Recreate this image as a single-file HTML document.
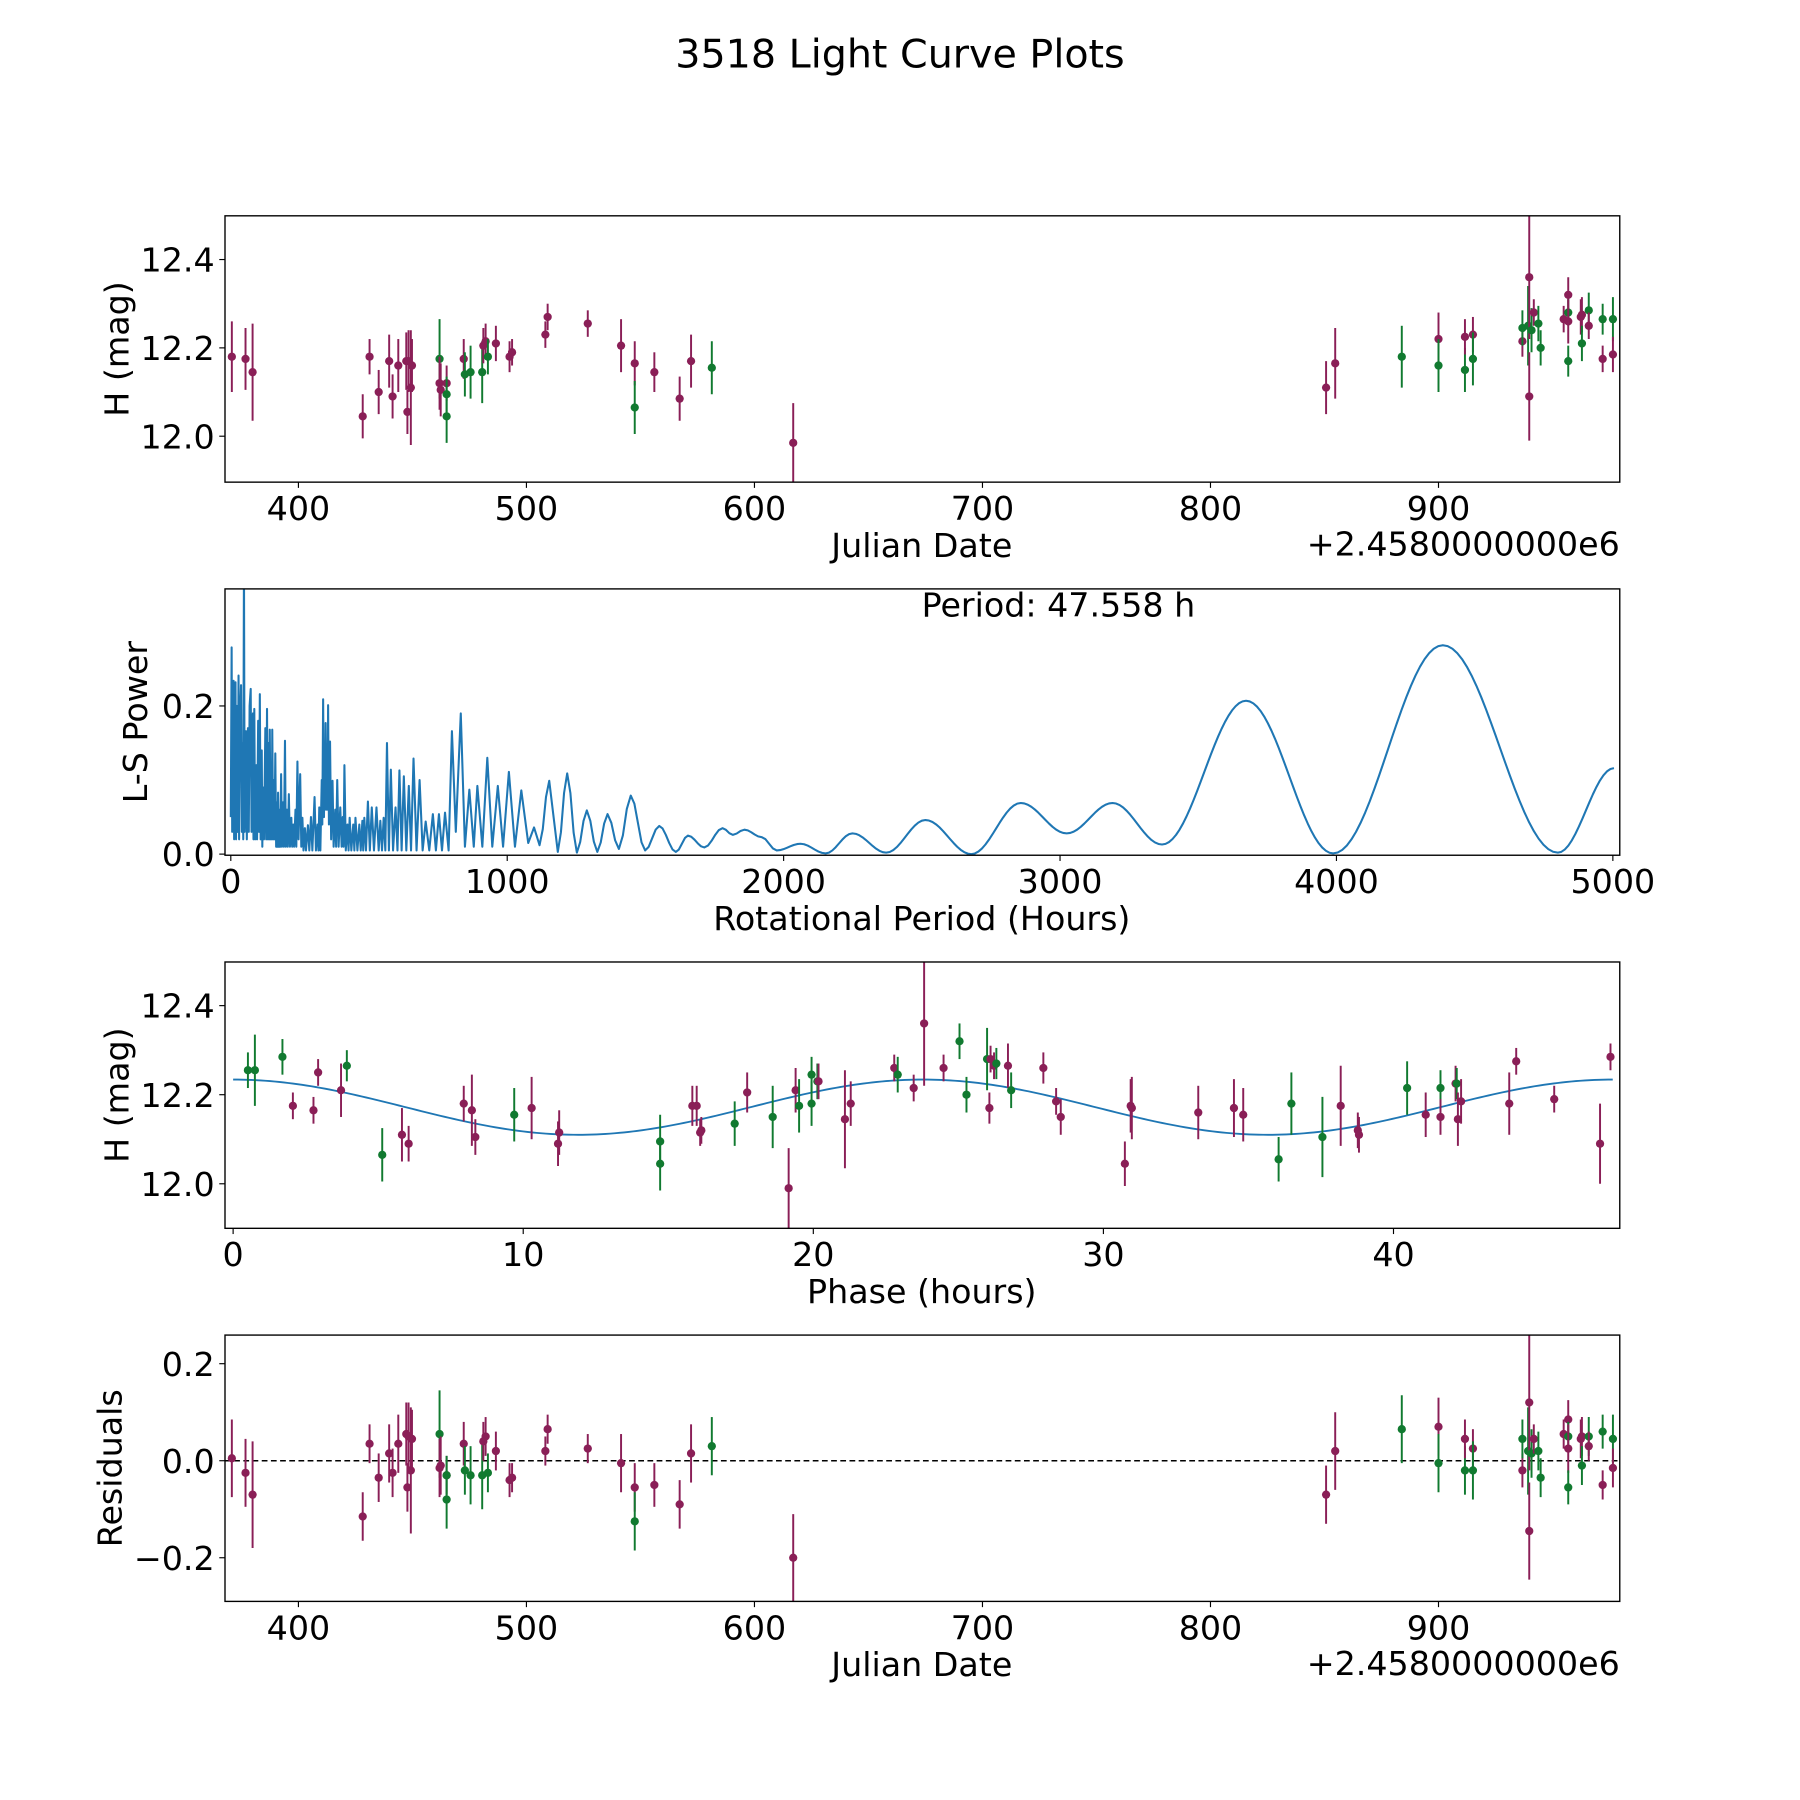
<!DOCTYPE html>
<html><head><meta charset="utf-8"><style>
html,body{margin:0;padding:0;background:#fff;}
svg{display:block;font-family:"DejaVu Sans","Liberation Sans",sans-serif;}
</style></head><body>
<svg id="fig" width="1800" height="1800" viewBox="0 0 1568 1568" xmlns="http://www.w3.org/2000/svg">
<text x="784" y="59" font-size="34.5" text-anchor="middle">3518 Light Curve Plots</text>
</svg>
<script>
// ---- Panel 1 / 4 data (Julian date offset from 2458000) ----
const obsDate = [370.8,376.8,379.9,428.2,431.2,435.2,439.8,441.3,443.8,447.3,447.8,448.3,449.3,449.8,461.9,461.9,462.4,465.0,465.0,465.0,472.5,473.0,475.5,480.6,481.1,482.1,483.1,486.6,492.6,493.7,508.3,509.3,526.9,541.5,547.5,547.5,556.1,567.2,572.2,581.3,617.0,850.7,854.7,883.9,900.0,900.0,911.6,911.6,915.1,915.1,936.8,936.8,939.3,939.8,939.8,940.8,941.8,943.8,944.8,954.9,956.9,956.9,956.9,956.9,962.4,962.9,962.9,965.9,965.9,972.0,972.0,976.5,976.5];
const obsMag = [12.18,12.175,12.145,12.045,12.18,12.10,12.17,12.09,12.16,12.17,12.055,12.17,12.11,12.16,12.175,12.12,12.105,12.12,12.095,12.045,12.175,12.14,12.145,12.145,12.205,12.215,12.18,12.21,12.18,12.19,12.23,12.27,12.255,12.205,12.165,12.065,12.145,12.085,12.17,12.155,11.985,12.11,12.165,12.18,12.22,12.16,12.15,12.225,12.23,12.175,12.215,12.245,12.25,12.36,12.09,12.24,12.28,12.255,12.2,12.265,12.32,12.28,12.26,12.17,12.27,12.275,12.21,12.285,12.25,12.265,12.175,12.265,12.185];
const obsErr = [0.08,0.07,0.11,0.05,0.04,0.05,0.06,0.05,0.06,0.065,0.05,0.07,0.13,0.06,0.09,0.06,0.06,0.04,0.04,0.06,0.045,0.05,0.06,0.07,0.04,0.04,0.04,0.04,0.035,0.03,0.03,0.03,0.03,0.06,0.05,0.06,0.045,0.05,0.06,0.06,0.09,0.06,0.08,0.07,0.06,0.06,0.05,0.04,0.04,0.06,0.035,0.04,0.09,0.14,0.1,0.05,0.03,0.04,0.04,0.03,0.04,0.03,0.05,0.035,0.04,0.04,0.04,0.04,0.03,0.035,0.03,0.05,0.04];
const obsBand = "mmmmmmmmmmmmmmgmmmggmgggmmgmmmmmmmmgmmmgmmmgmggmmgmggmmgmggmmgmgmmggmgmgm";
const obsResid = [0.005,-0.025,-0.07,-0.115,0.035,-0.035,0.015,-0.025,0.035,0.055,-0.055,0.05,-0.02,0.045,0.055,-0.015,-0.01,-0.03,-0.03,-0.08,0.035,-0.02,-0.03,-0.03,0.04,0.05,-0.025,0.02,-0.04,-0.035,0.02,0.065,0.025,-0.005,-0.055,-0.125,-0.05,-0.09,0.015,0.03,-0.2,-0.07,0.02,0.065,0.07,-0.005,-0.02,0.045,0.025,-0.02,-0.02,0.045,0.02,0.12,-0.145,0.015,0.045,0.02,-0.035,0.055,0.085,0.05,0.025,-0.055,0.045,0.05,-0.01,0.05,0.03,0.06,-0.05,0.045,-0.015];
// ---- Panel 3 data (phase folded) ----
const phHours = [0.51,0.75,1.70,2.06,2.77,2.93,3.72,3.92,5.14,5.82,6.05,7.95,8.23,8.35,9.69,10.29,11.20,11.24,14.72,14.72,15.83,15.98,16.10,16.14,17.29,17.72,18.60,19.15,19.39,19.51,19.94,19.94,20.14,20.18,21.09,21.29,22.79,22.91,23.46,23.82,24.49,25.04,25.28,25.99,26.07,26.11,26.23,26.31,26.71,26.82,27.93,28.37,28.53,30.74,30.94,30.98,33.27,34.50,34.82,36.04,36.48,37.55,38.18,38.77,38.81,40.47,41.11,41.62,41.62,42.14,42.18,42.22,42.33,43.99,44.23,45.54,47.12,47.48];
const phMag = [12.255,12.255,12.285,12.175,12.165,12.25,12.21,12.265,12.065,12.11,12.09,12.18,12.165,12.105,12.155,12.17,12.09,12.115,12.095,12.045,12.175,12.175,12.115,12.12,12.135,12.205,12.15,11.99,12.21,12.175,12.245,12.18,12.23,12.23,12.145,12.18,12.26,12.245,12.215,12.36,12.26,12.32,12.2,12.28,12.17,12.28,12.265,12.27,12.265,12.21,12.26,12.185,12.15,12.045,12.175,12.17,12.16,12.17,12.155,12.055,12.18,12.105,12.175,12.12,12.11,12.215,12.155,12.215,12.15,12.225,12.225,12.145,12.185,12.18,12.275,12.19,12.09,12.285];
const phErr = [0.04,0.08,0.04,0.03,0.03,0.03,0.06,0.035,0.06,0.06,0.04,0.04,0.08,0.04,0.06,0.07,0.05,0.05,0.06,0.06,0.045,0.045,0.03,0.03,0.05,0.045,0.07,0.09,0.05,0.06,0.04,0.05,0.04,0.04,0.11,0.05,0.03,0.04,0.03,0.14,0.03,0.04,0.04,0.07,0.035,0.03,0.03,0.035,0.05,0.04,0.035,0.03,0.04,0.05,0.06,0.07,0.06,0.065,0.06,0.05,0.07,0.09,0.09,0.04,0.04,0.06,0.05,0.04,0.04,0.04,0.035,0.06,0.05,0.07,0.03,0.03,0.09,0.03];
const phBand = "gggmmmmggmmmmmgmmmggmmmmgmgmmggggmmmmgmmmgggmmmgmgmmmmmmmmmgggmmmgmgmmgmmmmmm";
// sinusoid model fit parameters
const modelMean = [12.172];
const modelAmp = [0.062];
const modelPeriodH = [23.78];
// ---- Panel 2 periodogram extrema (period h, power) ----
const lsPeriod = [0,3,5,8,10,12,14,17,19,22,25,28,30,33,37,40,43,45,47.6,50,55,58,62,65,68,72,75,80,82,85,88,92,95,99,102,105,108,112,114,116,120,125,128,131,134,137,139,141,144,147,148,150,153,156,158,161,164,167,169,171,174,177,179,182,185,189,192,196,199,203,206,210,214,219,222,226,229,234,237,241,245,251,255,259,263,268,272,279,284,290,295,303,308,314,317,320,324,329,331,334,337,340,341,343,346,349,350,352,355,359,363,368,372,378,381,385,390,396,401,405,408,411,416,422,426,430,436,443,447,451,458,465,470,476,479,483,489,496,503,510,518,527,535,541,547,553,559,565,572,579,587,596,603,610,618,626,635,644,652,661,672,683,694,705,718,731,742,753,764,775,788,800,814,832,847,863,879,892,910,928,946,966,985,1006,1028,1051,1076,1097,1117,1152,1183,1217,1252,1288,1326,1363,1404,1447,1499,1550,1610,1654,1713,1779,1816,1858,1920,1975,2061,2152,2249,2371,2513,2679,2858,3024,3190,3369,3673,3988,4385,4801,5004];
const lsPower = [0.05,0.279,0.03,0.20,0.234,0.02,0.21,0.232,0.02,0.20,0.03,0.241,0.02,0.18,0.228,0.03,0.15,0.02,0.40,0.03,0.166,0.02,0.17,0.03,0.20,0.223,0.03,0.19,0.02,0.196,0.02,0.12,0.02,0.18,0.03,0.216,0.02,0.14,0.01,0.09,0.02,0.17,0.02,0.196,0.02,0.15,0.02,0.168,0.02,0.12,0.02,0.168,0.02,0.10,0.02,0.136,0.01,0.07,0.01,0.083,0.01,0.06,0.01,0.108,0.01,0.07,0.01,0.153,0.01,0.06,0.01,0.081,0.01,0.049,0.01,0.04,0.01,0.06,0.01,0.125,0.02,0.108,0.01,0.049,0.005,0.035,0.005,0.039,0.005,0.05,0.005,0.077,0.005,0.04,0.005,0.063,0.005,0.10,0.04,0.209,0.05,0.15,0.06,0.177,0.06,0.13,0.06,0.201,0.04,0.152,0.02,0.099,0.01,0.06,0.01,0.10,0.01,0.063,0.01,0.05,0.01,0.12,0.005,0.04,0.005,0.049,0.005,0.04,0.005,0.049,0.005,0.04,0.005,0.045,0.005,0.049,0.005,0.071,0.005,0.063,0.005,0.063,0.005,0.045,0.005,0.049,0.005,0.15,0.005,0.114,0.005,0.063,0.005,0.113,0.005,0.105,0.005,0.092,0.005,0.129,0.005,0.10,0.005,0.044,0.005,0.054,0.005,0.054,0.005,0.056,0.005,0.166,0.03,0.19,0.01,0.087,0.01,0.092,0.01,0.13,0.01,0.092,0.01,0.111,0.01,0.086,0.015,0.036,0.012,0.099,0.003,0.109,0.002,0.059,0.003,0.054,0.007,0.079,0.005,0.038,0.003,0.025,0.009,0.035,0.026,0.033,0.023,0.005,0.014,0.001,0.028,0.002,0.046,0.0,0.069,0.028,0.069,0.013,0.207,0.001,0.282,0.002,0.116];
const periodLabel = ["Period: 47.558 h"];
const jdTicks = [400,500,600,700,800,900];
const magTicks = [12.0,12.2,12.4];
const lsXTicks = [0,1000,2000,3000,4000,5000];
const lsYTicks = [0.0,0.2];
const phXTicks = [0,10,20,30,40];
const resTicks = [-0.2,0.0,0.2];

const NS = "http://www.w3.org/2000/svg";
const svg = document.getElementById('fig');
const MAG = '#8a1f57', GRN = '#117a30', BLUE = '#1f77b4';
const FS = 29;
function mk(tag, attrs, parent){ const e=document.createElementNS(NS,tag); for(const k in attrs) e.setAttribute(k,attrs[k]); (parent||svg).appendChild(e); return e; }
function scale(d0,d1,r0,r1){ return v => r0 + (v-d0)/(d1-d0)*(r1-r0); }

const L=196, R=1411;
const panels = [
  {top:188,bot:420, x:scale(367.8,979.5,L,R), y:scale(11.896,12.499,420,188)},
  {top:513,bot:745, x:scale(-21,5025,L,R), y:scale(-0.0015,0.358,745,513)},
  {top:838,bot:1070,x:scale(-0.28,47.8,L,R), y:scale(11.9,12.498,1070,838)},
  {top:1163,bot:1395,x:scale(367.8,979.5,L,R), y:scale(-0.29,0.259,1395,1163)}
];
panels.forEach((p,i)=>{
  const cp = mk('clipPath',{id:'clip'+i});
  mk('rect',{x:L,y:p.top,width:R-L,height:p.bot-p.top},cp);
  p.g = mk('g',{'clip-path':'url(#clip'+i+')'});
  
  
});
function frame(p,name){
  const r=mk('rect',{x:L,y:p.top,width:R-L,height:p.bot-p.top,fill:'none',stroke:'#000','stroke-width':1.2});
  
  
}
function xticks(p,ticks,fmt,name){
  const g=mk('g',{});
  
  
  ticks.forEach(t=>{
    const x=p.x(t);
    mk('line',{x1:x,x2:x,y1:p.bot,y2:p.bot+5,stroke:'#000','stroke-width':1},g);
    const tx=mk('text',{x:x,y:p.bot+33,'font-size':FS,'text-anchor':'middle'},g);
    tx.textContent=fmt(t);
  });
}
function yticks(p,ticks,fmt,name){
  const g=mk('g',{});
  
  
  ticks.forEach(t=>{
    const y=p.y(t);
    mk('line',{x1:L-5,x2:L,y1:y,y2:y,stroke:'#000','stroke-width':1},g);
    const tx=mk('text',{x:L-9,y:y+10.5,'font-size':FS,'text-anchor':'end'},g);
    tx.textContent=fmt(t);
  });
}
function label(txt,x,y,rot,name){
  const t=mk('text',{x:x,y:y,'font-size':FS,'text-anchor':'middle'});
  if(rot) t.setAttribute('transform','rotate(-90 '+x+' '+y+')');
  t.textContent=txt;
  
  
}
function errpoints(p,xs,ys,es,bands,name){
  for(let i=0;i<xs.length;i++){
    const c = bands[i]==='g'?GRN:MAG;
    const x=p.x(xs[i]);
    const g=mk('g',{},p.g);
    
    
    mk('line',{x1:x,x2:x,y1:p.y(ys[i]-es[i]),y2:p.y(ys[i]+es[i]),stroke:c,'stroke-width':1.7},g);
    mk('circle',{cx:x,cy:p.y(ys[i]),r:3.6,fill:c},g);
  }
}
const f1=v=>v.toFixed(1);
const fm=v=>(v<0?'\u2212':'')+Math.abs(v).toFixed(1);
const fi=v=>String(v);

// Panel 1
let p=panels[0];
errpoints(p,obsDate,obsMag,obsErr,obsBand,'light-curve');
frame(p,'light-curve'); xticks(p,jdTicks,fi,'light-curve-x-ticks'); yticks(p,magTicks,f1,'light-curve-y-ticks');
label('Julian Date',803,485,false,'light-curve-x-title');
label('H (mag)',112,304,true,'light-curve-y-title');
let off=mk('text',{x:R,y:484,'font-size':FS,'text-anchor':'end'}); off.textContent='+2.4580000000e6';
 

// Panel 2
p=panels[1];
{
  let d='';
  for(let i=0;i<lsPeriod.length;i++){
    if(i===0){ d+='M'+p.x(lsPeriod[0]).toFixed(2)+' '+p.y(lsPower[0]).toFixed(2); continue; }
    const x0=lsPeriod[i-1],x1=lsPeriod[i],y0=lsPower[i-1],y1=lsPower[i];
    const n=Math.max(2,Math.min(24,Math.round((p.x(x1)-p.x(x0))/3)));
    for(let k=1;k<=n;k++){
      const t=k/n, s=(1-Math.cos(Math.PI*t))/2;
      d+=' L'+p.x(x0+(x1-x0)*t).toFixed(2)+' '+p.y(y0+(y1-y0)*s).toFixed(2);
    }
  }
  const path=mk('path',{d:d,fill:'none',stroke:BLUE,'stroke-width':1.8,'stroke-linejoin':'round'},p.g);
  
  
}
frame(p,'periodogram'); xticks(p,lsXTicks,fi,'periodogram-x-ticks'); yticks(p,lsYTicks,f1,'periodogram-y-ticks');
label('Rotational Period (Hours)',803,810,false,'periodogram-x-title');
label('L-S Power',128,629,true,'periodogram-y-title');
let pt=mk('text',{x:922,y:537,'font-size':FS,'text-anchor':'middle'}); pt.textContent=periodLabel[0];
 

// Panel 3
p=panels[2];
{
  let d='';
  const maxPh = 47.558;
  for(let k=0;k<=300;k++){
    const ph=maxPh*k/300;
    const v=modelMean[0]+modelAmp[0]*Math.cos(2*Math.PI*ph/modelPeriodH[0]);
    d+=(k?' L':'M')+p.x(ph).toFixed(2)+' '+p.y(v).toFixed(2);
  }
  const path=mk('path',{d:d,fill:'none',stroke:BLUE,'stroke-width':1.6},p.g);
  
  
}
errpoints(p,phHours,phMag,phErr,phBand,'phase');
frame(p,'phase'); xticks(p,phXTicks,fi,'phase-x-ticks'); yticks(p,magTicks,f1,'phase-y-ticks');
label('Phase (hours)',803,1135,false,'phase-x-title');
label('H (mag)',112,954,true,'phase-y-title');

// Panel 4
p=panels[3];
{
  const z=mk('line',{x1:L,x2:R,y1:p.y(0),y2:p.y(0),stroke:'#000','stroke-width':1.3,'stroke-dasharray':'5,3'},p.g);
  
  
}
errpoints(p,obsDate,obsResid,obsErr,obsBand,'residual');
frame(p,'residuals'); xticks(p,jdTicks,fi,'residuals-x-ticks'); yticks(p,resTicks,fm,'residuals-y-ticks');
label('Julian Date',803,1460,false,'residuals-x-title');
label('Residuals',106,1279,true,'residuals-y-title');
let off2=mk('text',{x:R,y:1459,'font-size':FS,'text-anchor':'end'}); off2.textContent='+2.4580000000e6';
 
</script>
</body></html>
